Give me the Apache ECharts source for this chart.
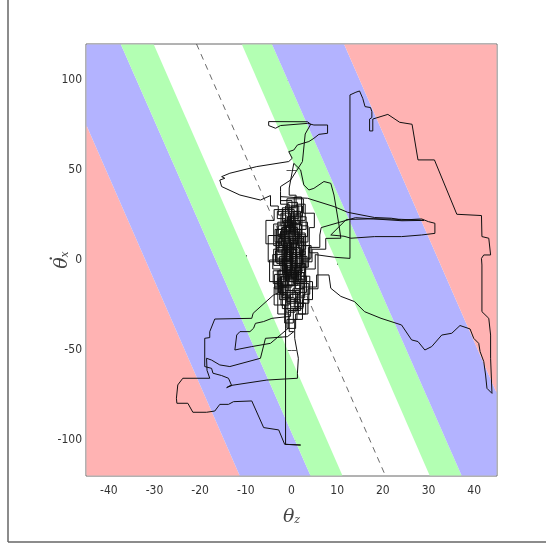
<!DOCTYPE html>
<html><head><meta charset="utf-8">
<script src="https://cdn.jsdelivr.net/npm/echarts@6/dist/echarts.min.js"></script>
<style>html,body{margin:0;padding:0;background:#fff;}#c{width:546px;height:547px;}</style>
</head><body><div id="c"></div>
<script>
// ---- axes ----
const xTicks = [-40,-30,-20,-10,0,10,20,30,40];
const yTicks = [-100,-50,0,50,100];
const xRange = [-45,45];
const yRange = [-120,120];

// ---- stability bands: x where each boundary meets the top (y=120) and bottom (y=-120) ----
const boundaryTopX    = [-52.7,-37.4,-30.2,-10.9,-4.3,11.5];
const boundaryBottomX = [-11.3,  4.2, 11.2, 30.3,37.3,52.9];
const bandColors = ['#ffb3b3','#b3b3ff','#b3ffb3',null,'#b3ffb3','#b3b3ff','#ffb3b3'];

// ---- dashed centre line ----
const dashedLine = [[-20.8,120],[20.6,-120]];

// ---- trajectory, in pieces ----
const coreA = [[0.5,3],[1.8,3],[1.8,9],[-0.6,9],[-0.6,15],[1.2,15],[1.2,21],[-1.5,21],[-1.5,12],[-2.8,12],[-2.8,4],[0.2,4],[0.2,-3],[2.4,-3],[2.4,6],[3.1,6],[3.1,14],[0.8,14],[0.8,24],[-0.9,24],[-0.9,18],[-2.2,18],[-2.2,8],[-0.3,8],[-0.3,-6],[1.5,-6],[1.5,-12],[-1.1,-12],[-1.1,-2],[-3.2,-2],[-3.2,7],[-1.8,7],[-1.8,16],[0.4,16],[0.4,27],[2.0,27],[2.0,19],[3.6,19],[3.6,10],[1.1,10],[1.1,1],[-2.0,1],[-2.0,-8],[0.9,-8],[0.9,-16],[2.7,-16],[2.7,-7],[0.0,-7],[0.0,5],[-1.2,5],[-1.2,25],[-2.9,25],[-2.9,30],[-4.6,30],[-4.6,35.8]];
const leftArrowTop = [[-6.8,33.3],[-11.3,36.1],[-15.3,40.8],[-15.7,44.4],[-14.6,45.4],[-15.3,46.3],[-13.5,48.2],[-7.6,51.9],[-0.6,54.7],[0.15,56.5],[-0.6,60.2],[0.5,61.1],[1.3,63.9],[3.8,65.8],[4.9,67.6],[6.0,69.8],[7.9,70.4],[7.9,75.0],[4.9,75.0],[3.5,75.9],[-2.4,74.7],[-3.5,73.2],[-5.0,74.7],[-5.0,76.9],[3.5,76.8],[4.2,75.4],[3.0,70.0],[2.4,54.7],[-0.2,44.4],[-2.4,40.8],[-2.4,38.0]];
const coreB = [[-2.4,31],[-0.5,31],[-0.5,22],[1.7,22],[1.7,12],[-1.6,12],[-1.6,-4],[0.6,-4],[0.6,-14],[-2.6,-14],[-2.6,-22],[-0.8,-22],[-0.8,-11],[2.1,-11],[2.1,0],[4.0,0],[4.0,8],[1.3,8],[1.3,18],[-0.7,18],[-0.7,29],[1.0,29],[1.0,36],[-0.5,36],[-0.5,40]];
const upperLoop = [[0.5,53.7],[2.0,50.0],[2.7,41.7],[3.8,38.9],[4.9,39.8],[7.1,43.6],[8.6,42.6],[9.3,36.1],[10.4,19.4],[10.8,12.1]];
const coreC = [[7.5,12],[7.5,6],[4.5,6],[4.5,-1],[2.2,-1],[2.2,11],[-0.4,11],[-0.4,23],[1.6,23],[1.6,30],[-1.3,30],[-1.3,17],[-3.6,17],[-3.6,10],[-1.0,10],[-1.0,2],[1.4,2],[1.4,-9],[3.3,-9],[3.3,-18],[0.6,-18],[0.6,-10],[-1.7,-10],[-1.7,-20],[-0.2,-20],[-0.2,-26],[1.9,-26],[1.9,-14],[-2.5,-14],[-2.5,-5],[-4.1,-5],[-4.1,3],[-1.4,3],[-1.4,13],[2.6,13],[2.6,4],[0.3,4],[0.3,19],[-2.3,19],[-2.3,26],[0.1,26],[0.1,33],[-2.4,33],[-2.4,35.2]];
const rightLoop = [[3.5,34.3],[9.3,29.7],[12.3,26.5],[18.2,23.6],[21.9,23.2],[24.1,22.2],[28.5,22.8],[30.0,21.3],[31.4,20.4],[31.4,14.8],[28.5,13.9],[24.1,13.0],[18.2,13.0],[13.0,12.1],[11.5,13.2],[8.6,13.9],[12.0,22.5],[18.0,22.9],[24.0,22.6],[29.0,22.0],[24.2,21.8],[14.0,23.5],[6.5,18.0]];
const coreD = [[6.2,13.9],[6.2,7],[3.7,7],[3.7,-4],[0.9,-4],[0.9,6],[-2.1,6],[-2.1,-1],[-5.1,-1],[-5.1,13.6],[-3.0,13.6],[-3.0,21],[-0.1,21],[-0.1,14],[2.3,14],[2.3,25],[0.5,25],[0.5,9],[-1.9,9],[-1.9,-7],[-0.6,-7],[-0.6,-17],[1.7,-17],[1.7,-24],[3.8,-24],[3.8,-13],[1.0,-13],[1.0,-2],[-1.3,-2],[-1.3,-12],[-3.4,-12],[-3.4,-19],[-1.2,-19],[-1.2,-29],[0.8,-29],[0.8,-21],[2.9,-21],[2.9,-5],[5.2,-5],[5.2,3],[9.5,1.5]];
const upperRight = [[12.8,0.9],[12.8,91.7],[14.1,93.2],[14.9,93.9],[15.6,89.8],[16.1,85.2],[17.3,84.7],[17.6,82.4],[17.6,79.1],[17.1,78.3],[17.1,71.7],[17.8,71.7],[17.8,78.3],[21.1,80.9],[23.7,76.5],[26.4,75.4],[27.7,55.6],[31.3,55.6],[36.2,25.4],[41.6,24.7],[41.7,13.0],[43.2,12.1],[43.6,2.8],[42.1,2.8],[41.6,0.9],[41.7,-2.8],[41.7,-28.7],[43.2,-32.4],[43.6,-41.7],[43.6,-54.6],[43.9,-74.1],[42.8,-71.3],[42.5,-63.9],[42.1,-56.4],[41.3,-50.9],[41.0,-46.3],[39.9,-43.5],[39.1,-38.3],[36.9,-36.4],[35.1,-40.7],[32.9,-41.7],[30.7,-48.1],[29.2,-50.0],[27.7,-45.3],[26.3,-44.4],[24.1,-36.1],[19.6,-32.4],[16.0,-28.7],[13.8,-23.1],[10.8,-20.2],[8.6,-15.7],[8.2,-8.3]];
const coreE = [[5.5,-8.3],[5.5,-15],[2.5,-15],[2.5,-27],[0.4,-27],[0.4,-35],[-1.5,-35],[-1.5,-25],[-3.8,-25],[-3.8,-15],[-1.0,-15],[-1.0,-6],[1.8,-6],[1.8,7],[-0.8,7],[-0.8,17],[-3.3,17],[-3.3,5],[-0.2,5],[-0.2,-9],[-2.2,-9],[-2.2,-17.4],[-1.8,-17.4]];
const lowerLeftA = [[-4.0,-19.6],[-8.4,-29.6],[-8.7,-32.4],[-16.8,-32.8],[-17.9,-39.8],[-17.9,-43.1],[-19.0,-43.5],[-19.0,-59.2],[-17.5,-60.2],[-17.2,-62.9],[-15.3,-64.2],[-13.8,-65.7],[-13.1,-69.8],[-14.2,-70.9],[-13.5,-69.8],[-5.4,-66.7],[1.3,-65.7],[1.3,-62.9],[1.5,-54.6],[0.7,-43.5]];
const coreF = [[0.7,-33],[2.4,-33],[2.4,-22],[4.6,-22],[4.6,-12],[1.2,-12],[1.2,0],[-1.6,0],[-1.6,-10],[-3.0,-10],[-3.0,-30],[-0.5,-30],[-0.5,-39.8],[0.5,-39.8]];
const lowerLeftB = [[-0.9,-42.6],[-5.7,-43.5],[-6.8,-54.6],[-13.5,-59.2],[-15.7,-58.3],[-17.5,-55.6],[-18.6,-54.6],[-18.5,-61.3],[-17.9,-65.7],[-23.8,-65.7],[-24.9,-69.4],[-25.2,-76.8],[-25.1,-79.6],[-22.7,-79.6],[-21.6,-84.6],[-18.6,-84.6],[-16.8,-83.9],[-15.7,-80.2],[-13.8,-80.2],[-12.7,-78.7],[-8.7,-78.3],[-6.1,-93.1],[-2.8,-94.4],[-1.5,-102.4],[2.0,-102.8],[-1.3,-102.4],[-1.3,-15.7]];
const coreG = [[-1.3,-8],[0.9,-8],[0.9,3],[3.0,3],[3.0,15],[0.6,15],[0.6,28],[-1.9,28],[-1.9,20],[-3.9,20],[-3.9,8],[-1.5,8],[-1.5,-4],[2.0,-4],[2.0,-19],[-0.2,-19],[-0.2,-31.3]];
const hook = [[-4.3,-32.4],[-6.1,-34.2],[-7.9,-35.2],[-8.3,-37.9],[-9.1,-39.8],[-11.3,-39.8],[-12.0,-41.7],[-12.4,-50.0],[-11.3,-49.4],[-8.7,-48.1],[-4.6,-46.3],[-0.7,-37.9]];
const coreH = [[-0.7,-28],[1.3,-28],[1.3,-18],[-2.8,-18],[-2.8,-6],[0.0,-6],[0.0,10],[2.2,10],[2.2,20],[-0.3,20],[-0.3,2]];
const coreI = [[-2.6,2],[-2.6,-3],[-0.9,-3],[-0.9,-9],[1.6,-9],[1.6,-4],[3.4,-4],[3.4,2],[2.0,2],[2.0,7],[-0.2,7],[-0.2,12],[-2.4,12],[-2.4,16],[-0.5,16],[-0.5,20],[1.9,20],[1.9,24],[3.2,24],[3.2,17],[0.9,17],[0.9,11],[-1.7,11],[-1.7,5],[-3.5,5],[-3.5,-1],[-1.4,-1],[-1.4,-7],[0.4,-7],[0.4,-13],[2.8,-13],[2.8,-20],[1.0,-20],[1.0,-24],[-1.0,-24],[-1.0,-18],[-2.9,-18],[-2.9,-11],[-0.6,-11],[-0.6,-5],[1.2,-5],[1.2,3],[-0.9,3]];
const coreJ = [[-0.9,9],[-3.0,9],[-3.0,14],[-1.1,14],[-1.1,19],[0.7,19],[0.7,13],[2.7,13],[2.7,8],[4.3,8],[4.3,1],[2.5,1],[2.5,-6],[0.2,-6],[0.2,-1],[-2.3,-1],[-2.3,-6],[-4.0,-6],[-4.0,-13],[-1.9,-13],[-1.9,-21],[0.3,-21],[0.3,-16],[2.3,-16],[2.3,-10],[0.0,-10],[0.0,-3],[-1.7,-3],[-1.7,4],[0.5,4],[0.5,10],[-1.4,10],[-1.4,23],[-3.1,23],[-3.1,27],[-0.8,27],[-0.8,32],[1.3,32],[1.3,25],[-0.1,25],[-0.1,17],[2.1,17],[2.1,9],[0.3,9]];
const coreK = [[0.3,0],[-2.0,0],[-2.0,-5],[-0.4,-5],[-0.4,-12],[1.8,-12],[1.8,-19],[-0.5,-19],[-0.5,-25],[-2.3,-25],[-2.3,-16],[-3.7,-16],[-3.7,-8],[-1.5,-8],[-1.5,6],[1.0,6],[1.0,13],[3.5,13],[3.5,21],[1.4,21],[1.4,27],[-0.6,27],[-0.6,14],[-2.7,14],[-2.7,7],[-0.1,7],[-0.1,-2],[2.9,-2],[2.9,-11],[1.1,-11],[1.1,-7],[-1.2,-7],[-1.2,0],[-3.4,0],[-3.4,10],[-2.0,10],[-2.0,18],[0.2,18],[0.2,22]];
const coreL = [[-1.7,22],[-1.7,15],[0.8,15],[0.8,5],[3.0,5],[3.0,-7],[1.4,-7],[1.4,-14],[-0.8,-14],[-0.8,-8],[-2.7,-8],[-2.7,-15],[-1.0,-15],[-1.0,-23],[1.5,-23],[1.5,-30],[3.1,-30],[3.1,-24],[0.9,-24],[0.9,-17],[-1.4,-17],[-1.4,-10],[0.6,-10],[0.6,-1],[-1.1,-1],[-1.1,8],[-2.5,8],[-2.5,15],[-0.3,15],[-0.3,24],[2.4,24],[2.4,30],[0.0,30],[0.0,20],[1.8,20],[1.8,11],[-0.4,11],[-0.4,0]];
const coreM = [[-4.8,0],[-4.8,-12],[-2.0,-12],[-2.0,-27],[1.2,-27],[1.2,-33],[-1.0,-33],[-1.0,-38],[0.9,-38],[0.9,-30],[3.6,-30],[3.6,-16],[5.8,-16],[5.8,4],[3.9,4],[3.9,18],[5.0,18],[5.0,26],[2.6,26],[2.6,34],[-1.0,34],[-1.0,28],[-3.8,28],[-3.8,22],[-5.6,22],[-5.6,9],[-3.2,9],[-3.2,1],[0.0,1]];
const coreN = [[2.2,1],[2.2,-8],[0.1,-8],[0.1,-15],[-2.1,-15],[-2.1,-21],[0.6,-21],[0.6,-26],[2.6,-26],[2.6,-19],[4.0,-19],[4.0,-9],[1.9,-9],[1.9,4],[-0.5,4],[-0.5,13],[-2.9,13],[-2.9,19],[-0.9,19],[-0.9,24],[1.2,24],[1.2,31],[3.0,31],[3.0,22],[0.9,22],[0.9,16],[-1.6,16],[-1.6,6],[-3.9,6],[-3.9,-3],[-1.8,-3],[-1.8,-10],[0.8,-10],[0.8,-4],[2.7,-4],[2.7,10],[0.4,10],[0.4,3]];
const coreO = [[-1.0,3],[-1.0,-6],[-3.1,-6],[-3.1,-14],[-0.3,-14],[-0.3,-22],[2.0,-22],[2.0,-28],[-0.8,-28],[-0.8,-19],[-2.4,-19],[-2.4,-9],[0.3,-9],[0.3,2],[2.5,2],[2.5,12],[0.1,12],[0.1,21],[-2.0,21],[-2.0,29],[0.6,29],[0.6,35],[2.2,35],[2.2,26],[-0.2,26],[-0.2,16],[1.5,16],[1.5,6],[-1.3,6],[-1.3,-1],[0.9,-1],[0.9,-12],[3.1,-12],[3.1,-2],[1.0,-2],[1.0,4]];

const trajectory = [].concat(coreA, leftArrowTop, coreB, upperLoop, coreC, rightLoop, coreD,
  upperRight, coreE, lowerLeftA, coreF, lowerLeftB, coreG, hook, coreH, coreI, coreJ, coreK, coreL, coreM, coreN, coreO);

// band polygons from boundary arrays
const FAR = 1000;
const bandData = [];
for (let i = 0; i < bandColors.length; i++) {
  if (!bandColors[i]) continue;
  const lt = i === 0 ? -FAR : boundaryTopX[i-1];
  const lb = i === 0 ? -FAR : boundaryBottomX[i-1];
  const rt = i === bandColors.length-1 ? FAR : boundaryTopX[i];
  const rb = i === bandColors.length-1 ? FAR : boundaryBottomX[i];
  bandData.push([lt, lb, rt, rb, i]);
}

function clipPoly(pts, x0, y0, x1, y1) {
  const edges = [
    [p => p[0] >= x0, (a,b) => { const t=(x0-a[0])/(b[0]-a[0]); return [x0, a[1]+t*(b[1]-a[1])]; }],
    [p => p[0] <= x1, (a,b) => { const t=(x1-a[0])/(b[0]-a[0]); return [x1, a[1]+t*(b[1]-a[1])]; }],
    [p => p[1] >= y0, (a,b) => { const t=(y0-a[1])/(b[1]-a[1]); return [a[0]+t*(b[0]-a[0]), y0]; }],
    [p => p[1] <= y1, (a,b) => { const t=(y1-a[1])/(b[1]-a[1]); return [a[0]+t*(b[0]-a[0]), y1]; }]
  ];
  let out = pts;
  for (const [inside, inter] of edges) {
    const inp = out; out = [];
    for (let i = 0; i < inp.length; i++) {
      const cur = inp[i], prev = inp[(i + inp.length - 1) % inp.length];
      const ci = inside(cur), pi = inside(prev);
      if (ci) { if (!pi) out.push(inter(prev, cur)); out.push(cur); }
      else if (pi) out.push(inter(prev, cur));
    }
  }
  return out;
}

const chart = echarts.init(document.getElementById('c'), null, {renderer: 'canvas'});
const tickFont = "'Liberation Sans Narrow','DejaVu Sans Condensed','Liberation Sans',sans-serif";
const nameRich = {
  d: { fontSize: 18, fontFamily: 'DejaVu Serif', color: '#444', lineHeight: 4, padding: [0, 0, 0, 3] },
  a: { fontSize: 19, fontStyle: 'italic', fontFamily: 'DejaVu Serif', color: '#444', lineHeight: 17 },
  b: { fontSize: 11, fontStyle: 'italic', fontFamily: 'DejaVu Serif', color: '#444', verticalAlign: 'bottom', lineHeight: 11 }
};
chart.setOption({
  animation: false,
  backgroundColor: '#fff',
  grid: { left: 86, top: 44, width: 411, height: 432, show: true, borderColor: '#666', borderWidth: 1, backgroundColor: 'transparent', containLabel: false },
  xAxis: [{
    type: 'value', min: xRange[0], max: xRange[1], position: 'bottom',
    axisLine: { show: false }, splitLine: { show: false },
    axisTick: { show: true, inside: true, length: 5, lineStyle: { color: '#555' }, customValues: xTicks },
    axisLabel: { customValues: xTicks, color: '#333', fontSize: 12, fontFamily: tickFont, margin: 9 },
    name: '{a|θ}{b|z}', nameLocation: 'middle', nameGap: 33, nameMoveOverlap: false,
    nameTextStyle: { rich: nameRich }
  }, {
    type: 'value', min: xRange[0], max: xRange[1], position: 'top',
    axisLine: { show: false }, splitLine: { show: false },
    axisTick: { show: true, inside: true, length: 5, lineStyle: { color: '#555' }, customValues: xTicks },
    axisLabel: { show: false }
  }],
  yAxis: [{
    type: 'value', min: yRange[0], max: yRange[1], position: 'left',
    axisLine: { show: false }, splitLine: { show: false },
    axisTick: { show: true, inside: true, length: 5, lineStyle: { color: '#555' }, customValues: yTicks },
    axisLabel: { customValues: yTicks, color: '#333', fontSize: 12, fontFamily: tickFont, margin: 4 },
    name: '{d|·}\n{a|θ}{b|x}', nameLocation: 'middle', nameGap: 15, nameMoveOverlap: false,
    nameTextStyle: { rich: nameRich }
  }, {
    type: 'value', min: yRange[0], max: yRange[1], position: 'right',
    axisLine: { show: false }, splitLine: { show: false },
    axisTick: { show: true, inside: true, length: 5, lineStyle: { color: '#555' }, customValues: yTicks },
    axisLabel: { show: false }
  }],
  graphic: [
    { type: 'line', shape: { x1: 8, y1: 0, x2: 8, y2: 542 }, style: { stroke: '#666', lineWidth: 1.5 }, silent: true },
    { type: 'line', shape: { x1: 8, y1: 542, x2: 546, y2: 542 }, style: { stroke: '#666', lineWidth: 1.5 }, silent: true }
  ],
  series: [{
    type: 'custom', z: 1, silent: true,
    data: bandData,
    renderItem: function (params, api) {
      const lt = api.value(0), lb = api.value(1), rt = api.value(2), rb = api.value(3);
      const pts = [api.coord([lt, yRange[1]]), api.coord([rt, yRange[1]]), api.coord([rb, yRange[0]]), api.coord([lb, yRange[0]])];
      const cs = params.coordSys;
      const clipped = clipPoly(pts, cs.x + 0.5, cs.y + 0.5, cs.x + cs.width - 0.5, cs.y + cs.height - 0.5);
      return { type: 'polygon', shape: { points: clipped }, style: { fill: bandColors[api.value(4)] } };
    }
  }, {
    type: 'line', z: 3, data: dashedLine, showSymbol: false, silent: true,
    lineStyle: { color: '#444', width: 0.8, type: [6, 5] }
  }, {
    type: 'line', z: 4, data: trajectory, showSymbol: false, silent: true, clip: true,
    lineStyle: { color: '#111', width: 1 }
  }]
});
</script>
</body></html>
